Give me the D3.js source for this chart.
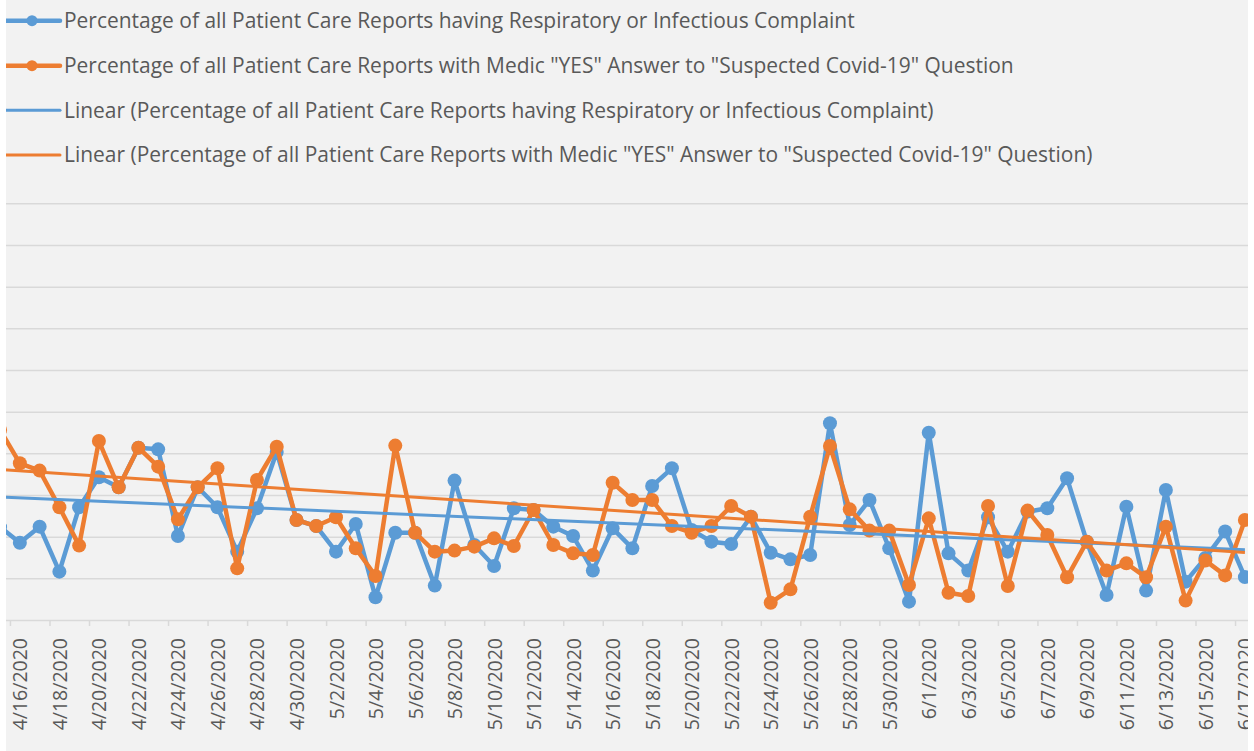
<!DOCTYPE html>
<html>
<head>
<meta charset="utf-8">
<script src="https://cdn.jsdelivr.net/npm/d3@7"></script>
<style>
    html, body { margin: 0; padding: 0; background: #ffffff; }
    #main { width: 1254px; height: 751px; overflow: hidden; }
</style>
</head>
<body>
<div id="main"></div>
<script>
// daily dates 4/15/2020 .. 6/17/2020
const startDate = new Date(2020, 3, 15);
const endDate = new Date(2020, 5, 17);

// percentage values, one per day
const respiratory = [
    4.46, 3.71, 4.48, 2.32, 5.41, 6.85, 6.37, 8.27, 8.19, 4.03,
    6.37, 5.41, 3.28, 5.36, 8.06, 4.80, 4.51, 3.28, 4.61, 1.09,
    4.19, 4.19, 1.65, 6.69, 3.60, 2.59, 5.36, 5.28, 4.48, 4.03,
    2.37, 4.40, 3.44, 6.43, 7.28, 4.32, 3.76, 3.65, 4.96, 3.23,
    2.91, 3.12, 9.44, 4.56, 5.76, 3.44, 0.88, 8.99, 3.20, 2.37,
    4.93, 3.28, 5.20, 5.36, 6.80, 3.76, 1.20, 5.44, 1.41, 6.24,
    1.84, 2.98, 4.25, 2.06
];
const suspectedCovid = [
    9.12, 7.52, 7.17, 5.41, 3.57, 8.59, 6.37, 8.27, 7.36, 4.83,
    6.37, 7.28, 2.48, 6.72, 8.32, 4.80, 4.51, 4.93, 3.44, 2.11,
    8.37, 4.19, 3.28, 3.33, 3.52, 3.92, 3.55, 5.28, 3.60, 3.20,
    3.12, 6.59, 5.76, 5.76, 4.51, 4.19, 4.51, 5.47, 4.96, 0.83,
    1.47, 4.96, 8.35, 5.31, 4.29, 4.29, 1.68, 4.88, 1.31, 1.15,
    5.47, 1.63, 5.25, 4.08, 2.05, 3.76, 2.37, 2.72, 2.05, 4.48,
    0.93, 2.85, 2.14, 4.80
];

// linear trend values at the first and last visible day (the fit runs over the full, uncropped series)
const respiratoryTrend = [5.90, 3.37];
const suspectedCovidTrend = [7.22, 3.24];

const yTicks = [0, 2, 4, 6, 8, 10, 12, 14, 16, 18, 20];

const legendLabels = [
    'Percentage of all Patient Care Reports having Respiratory or Infectious Complaint',
    'Percentage of all Patient Care Reports with Medic "YES" Answer to "Suspected Covid-19" Question',
    'Linear (Percentage of all Patient Care Reports having Respiratory or Infectious Complaint)',
    'Linear (Percentage of all Patient Care Reports with Medic "YES" Answer to "Suspected Covid-19" Question)'
];

const chart = (function () {
    function chart() {
        if (!(this instanceof chart)) {
            return new chart();
        }
        this.initProperty();
        this.init();
    }

    chart.prototype.initProperty = function () {
        this.width = 1254;
        this.height = 751;
        this.font = '"Open Sans", "Noto Sans", sans-serif';
        this.textColor = '#595959';
        this.gridColor = '#d9d9d9';
        this.colors = ['#5b9bd5', '#ed7d31'];

        this.dates = d3.timeDay.range(startDate, d3.timeDay.offset(endDate, 1));
        this.series = [respiratory, suspectedCovid];
        this.trends = [respiratoryTrend, suspectedCovidTrend];

        this.svg = d3.select('#main').append('svg')
            .attr('width', this.width).attr('height', this.height);

        this.xScale = d3.scaleTime().domain([startDate, endDate]).range([0.1, 1244.9]);
        this.yScale = d3.scaleLinear().domain([0, 20]).range([620, 203.3]);
        this.dayWidth = this.xScale(this.dates[1]) - this.xScale(this.dates[0]);
    };

    chart.prototype.init = function () {
        this.svg.append('rect').attr('width', this.width).attr('height', this.height).attr('fill', '#f2f2f2');
        this.drawGrid();
        this.drawAxis();
        this.drawSeries();
        this.drawTrends();
        this.drawLegend();
        // white border strips at both sides of the crop
        this.svg.append('rect').attr('x', 0).attr('y', 0).attr('width', 6).attr('height', this.height).attr('fill', '#ffffff');
        this.svg.append('rect').attr('x', 1248).attr('y', 0).attr('width', 6).attr('height', this.height).attr('fill', '#ffffff');
    };

    chart.prototype.drawGrid = function () {
        const that = this;
        const yAxis = d3.axisLeft(this.yScale)
            .tickValues(yTicks)
            .tickSize(-this.width)
            .tickFormat('');
        const g = this.svg.append('g')
            .call(yAxis);
        g.select('.domain').remove();
        g.selectAll('.tick line')
            .attr('stroke', that.gridColor)
            .attr('stroke-width', 1.5);
    };

    chart.prototype.drawAxis = function () {
        const that = this;
        const labelDates = this.dates.filter(function (d, i) { return i % 2 === 1; });
        const xAxis = d3.axisBottom(this.xScale)
            .tickValues(labelDates)
            .tickSize(6)
            .tickPadding(0)
            .tickFormat(d3.timeFormat('%-m/%-d/%Y'));

        const g = this.svg.append('g')
            .attr('transform', 'translate(0,' + this.yScale(0) + ')')
            .call(xAxis);
        g.select('.domain').remove();
        // tick marks sit between categories
        g.selectAll('.tick line')
            .attr('x1', -that.dayWidth / 2).attr('x2', -that.dayWidth / 2)
            .attr('stroke', that.gridColor)
            .attr('stroke-width', 1.5);
        g.selectAll('.tick text')
            .attr('fill', that.textColor)
            .style('font-family', that.font)
            .style('font-size', '19.5px')
            .attr('text-anchor', 'end')
            .attr('transform', 'translate(0,18) rotate(-90)')
            .attr('x', 0).attr('y', 0).attr('dy', '0.36em');
    };

    chart.prototype.drawSeries = function () {
        const that = this;
        const line = d3.line()
            .x(function (d, i) { return that.xScale(that.dates[i]); })
            .y(function (d) { return that.yScale(d); });

        this.series.forEach(function (values, s) {
            const g = that.svg.append('g');
            g.append('path')
                .datum(values)
                .attr('d', line)
                .attr('fill', 'none')
                .attr('stroke', that.colors[s])
                .attr('stroke-width', 4.5)
                .attr('stroke-linejoin', 'round');
            g.selectAll('circle').data(values).enter()
                .append('circle')
                .attr('cx', function (d, i) { return that.xScale(that.dates[i]); })
                .attr('cy', function (d) { return that.yScale(d); })
                .attr('r', 7)
                .attr('fill', that.colors[s]);
        });
    };

    chart.prototype.drawTrends = function () {
        const that = this;
        const line = d3.line()
            .x(function (d, i) { return that.xScale(i === 0 ? startDate : endDate); })
            .y(function (d) { return that.yScale(d); });
        this.trends.forEach(function (values, s) {
            that.svg.append('path')
                .datum(values)
                .attr('d', line)
                .attr('fill', 'none')
                .attr('stroke', that.colors[s])
                .attr('stroke-width', 3);
        });
    };

    chart.prototype.drawLegend = function () {
        const that = this;
        const rowY = [20.7, 65.7, 110.3, 155];
        const items = this.svg.selectAll('.legend-item').data(legendLabels).enter()
            .append('g')
            .attr('class', 'legend-item')
            .attr('transform', function (d, i) { return 'translate(0,' + rowY[i] + ')'; });

        items.append('line')
            .attr('x1', 6).attr('x2', 60)
            .attr('stroke', function (d, i) { return that.colors[i % 2]; })
            .attr('stroke-width', function (d, i) { return i < 2 ? 4.5 : 3; })
            .attr('stroke-linecap', 'round');
        items.filter(function (d, i) { return i < 2; })
            .append('circle')
            .attr('cx', 32).attr('r', 5.5)
            .attr('fill', function (d, i) { return that.colors[i]; });

        const texts = items.append('text')
            .attr('x', 64)
            .attr('dy', '0.35em')
            .attr('fill', that.textColor)
            .style('font-family', that.font)
            .style('font-size', '20px')
            .text(function (d) { return d; });

        // scale the font so the first entry spans as wide as in the picture
        const w = texts.node().getComputedTextLength();
        const size = 20 * 791 / w;
        texts.style('font-size', size + 'px');
    };

    return chart;
})();

chart();
</script>
</body>
</html>
